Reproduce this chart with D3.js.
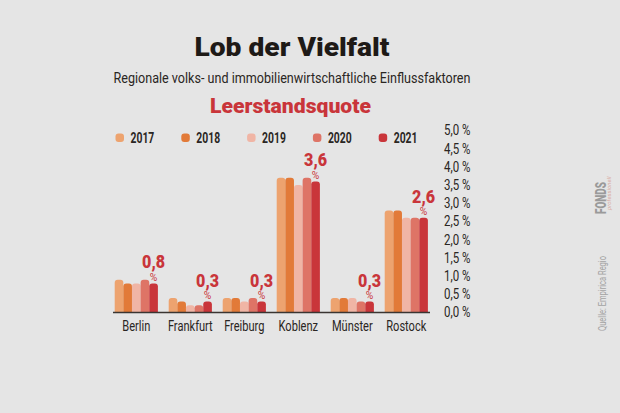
<!DOCTYPE html>
<html><head><meta charset="utf-8">
<script src="https://cdn.jsdelivr.net/npm/d3@7"></script>
<style>
html,body{margin:0;padding:0;background:#e5e5e5;}
svg{display:block;}
</style></head>
<body>
<svg id="chart" width="620" height="413"></svg>
<script>
const cities = ["Berlin","Frankfurt","Freiburg","Koblenz","Münster","Rostock"];
const years = ["2017","2018","2019","2020","2021"];
const v2017 = [0.9,0.4,0.4,3.7,0.4,2.8];
const v2018 = [0.8,0.3,0.4,3.7,0.4,2.8];
const v2019 = [0.8,0.2,0.3,3.5,0.4,2.6];
const v2020 = [0.9,0.2,0.4,3.7,0.3,2.6];
const v2021 = [0.8,0.3,0.3,3.6,0.3,2.6];
const series = [v2017,v2018,v2019,v2020,v2021];
const colors = ["#eda36f","#e27a38","#f0b5a5","#de7466","#c9353a"];
const yTicks = [0,0.5,1,1.5,2,2.5,3,3.5,4,4.5,5];

const svg = d3.select("#chart");
const font = 'Roboto, "DejaVu Sans", sans-serif';

function condense(sel, f){
  sel.each(function(){
    const w = this.getComputedTextLength();
    d3.select(this).attr("textLength", w*f).attr("lengthAdjust","spacingAndGlyphs");
  });
}

svg.append("rect").attr("width",620).attr("height",413).attr("fill","#e5e5e5");

// Titles
svg.append("text").attr("x",292).attr("y",56).attr("text-anchor","middle")
  .attr("font-family",font).attr("font-weight",900)
  .attr("font-size",26).attr("fill","#1e1a17")
  .attr("textLength",195).attr("lengthAdjust","spacingAndGlyphs")
  .text("Lob der Vielfalt");
svg.append("text").attr("x",292).attr("y",83).attr("text-anchor","middle")
  .attr("font-family",font).attr("font-size",14).attr("fill","#2a2623")
  .attr("textLength",357).attr("lengthAdjust","spacingAndGlyphs")
  .text("Regionale volks- und immobilienwirtschaftliche Einflussfaktoren");
svg.append("text").attr("x",290.5).attr("y",113).attr("text-anchor","middle")
  .attr("font-family",font).attr("font-weight",900)
  .attr("font-size",20).attr("fill","#c9353a")
  .attr("textLength",161).attr("lengthAdjust","spacingAndGlyphs")
  .text("Leerstandsquote");

// Scales
const x0 = d3.scaleBand().domain(cities).range([109.3,433.3]).paddingInner(0.2).paddingOuter(0.1);
const x1 = d3.scaleBand().domain(years).range([0,x0.bandwidth()]).padding(0);
const y = d3.scaleLinear().domain([0,5]).range([312.5,130.5]);

// Legend
const lg = svg.append("g");
years.forEach((yr,i)=>{
  const lx = 115.5 + i*65.8;
  lg.append("rect").attr("x",lx).attr("y",133.5).attr("width",8.5).attr("height",8.5)
    .attr("rx",3).attr("fill",colors[i]);
  lg.append("text").attr("x",lx+15).attr("y",142.5).attr("font-family",font)
    .attr("font-size",14).attr("font-weight","bold").attr("fill","#2a2623")
    .attr("class","lgtxt").text(yr);
});
condense(lg.selectAll(".lgtxt"),0.74);

// Y axis (right, labels only)
const yAxis = d3.axisRight(y).tickValues(yTicks).tickSize(0).tickPadding(0)
  .tickFormat(d=>d3.format(".1f")(d).replace(".",",")+" %");
const ya = svg.append("g").attr("transform","translate(444,0)").call(yAxis);
ya.select(".domain").remove();
ya.selectAll("text").attr("font-family",font).attr("font-size",14).attr("fill","#2a2623")
  .attr("text-anchor","start");
condense(ya.selectAll("text"),0.82);

// Bars
function barPath(x,w,yt,yb,r){
  r = Math.min(r,(yb-yt),w/2);
  return `M${x},${yb}V${yt+r}Q${x},${yt} ${x+r},${yt}H${x+w-r}Q${x+w},${yt} ${x+w},${yt+r}V${yb}Z`;
}
const bars = svg.append("g");
cities.forEach((c,ci)=>{
  const g = bars.append("g").attr("transform",`translate(${x0(c)},0)`);
  years.forEach((yr,si)=>{
    const val = series[si][ci];
    g.append("path").attr("d",barPath(x1(yr),x1.bandwidth(),y(val),y(0),3)).attr("fill",colors[si]);
  });
  const val = v2021[ci];
  const cx = x1("2021")+x1.bandwidth()/2;
  g.append("text").attr("x",cx).attr("y",y(val)-15).attr("text-anchor","middle")
    .attr("font-family",font).attr("font-weight",900).attr("font-size",17.5)
    .attr("fill","#c9353a").attr("textLength",23).attr("lengthAdjust","spacingAndGlyphs")
    .text(d3.format(".1f")(val).replace(".",","));
  g.append("text").attr("x",cx).attr("y",y(val)-2.5).attr("text-anchor","middle")
    .attr("font-family",font).attr("font-size",11)
    .attr("fill","#c9353a").attr("textLength",7.5).attr("lengthAdjust","spacingAndGlyphs").text("%");
});

// Baseline / x axis
svg.append("line").attr("x1",113).attr("x2",430).attr("y1",y(0)).attr("y2",y(0))
  .attr("stroke","#3a3532").attr("stroke-width",1.6);
const xAxis = d3.axisBottom(x0).tickSize(0).tickPadding(0);
const xa = svg.append("g").attr("transform",`translate(0,331)`).call(xAxis);
xa.select(".domain").remove();
xa.selectAll("text").attr("font-family",font).attr("font-size",14).attr("fill","#2a2623")
  .attr("dy","0");
condense(xa.selectAll("text"),0.79);

// Source & logo
svg.append("text").attr("transform","translate(606,331) rotate(-90)")
  .attr("font-family",font).attr("font-size",10.5).attr("fill","#a3a3a3")
  .attr("textLength",75).attr("lengthAdjust","spacingAndGlyphs")
  .text("Quelle: Empirica Regio");
svg.append("text").attr("transform","translate(605.5,214) rotate(-90)")
  .attr("font-family",font).attr("font-weight",900).attr("font-size",15)
  .attr("fill","#9a9a9a").attr("textLength",32).attr("lengthAdjust","spacingAndGlyphs")
  .text("FONDS");
svg.append("text").attr("transform","translate(610.5,210) rotate(-90)")
  .attr("font-family",font).attr("font-style","italic").attr("font-size",6)
  .attr("fill","#d9a9a0").text("professionell");
</script>
</body></html>
